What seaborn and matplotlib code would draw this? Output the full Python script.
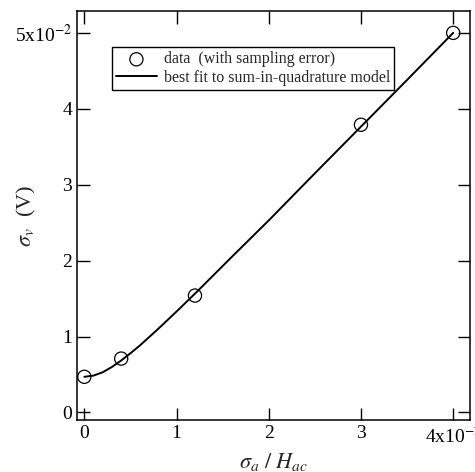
import numpy as np
import pandas as pd
import seaborn as sns
import matplotlib.pyplot as plt

# measured points (x in units of 1e-2, y in units of 1e-2 V)
data_x = [0.0, 0.4, 1.2, 3.0, 4.0]
data_y = [0.47, 0.71, 1.54, 3.79, 5.0]

# fit curve
fit_x = [0.0, 0.1, 0.2, 0.3, 0.4, 0.5, 0.6, 0.8, 1.0, 1.2, 1.6, 2.0, 2.5, 3.0, 3.5, 4.0]
fit_y = [0.47, 0.486, 0.53, 0.60, 0.685, 0.78, 0.88, 1.10, 1.33, 1.565, 2.05, 2.53, 3.15, 3.765, 4.38, 5.0]

x_ticks = [0, 1, 2, 3, 4]
x_labels = ['0', '1', '2', '3', r'4x10$^{-2}$']
y_ticks = [0, 1, 2, 3, 4, 5]
y_labels = ['0', '1', '2', '3', '4', r'5x10$^{-2}$']

sns.set_style('ticks')
plt.rcParams['font.family'] = ['Liberation Serif', 'DejaVu Serif']
plt.rcParams['mathtext.fontset'] = 'stix'

fig = plt.figure(figsize=(4.75, 4.72), dpi=100)
ax = fig.add_axes([0.162, 0.110, 0.827, 0.867])

fit = pd.DataFrame({'x': fit_x, 'y': fit_y})
pts = pd.DataFrame({'x': data_x, 'y': data_y})

sns.lineplot(data=fit, x='x', y='y', color='black', linewidth=1.4, ax=ax,
             label='best fit to sum-in-quadrature model')
sns.scatterplot(data=pts, x='x', y='y', marker='o', s=90, facecolor='none',
                edgecolor='black', linewidth=0.9, ax=ax, zorder=3,
                label='data  (with sampling error)')

ax.set_xlim(-0.08, 4.18)
ax.set_ylim(-0.1, 5.29)
ax.set_xticks(x_ticks)
ax.set_xticklabels(x_labels)
ax.set_yticks(y_ticks)
ax.set_yticklabels(y_labels)
ax.tick_params(direction='in', length=9, width=1, top=True, right=True,
               labelsize=14, colors='black')
for s in ax.spines.values():
    s.set_linewidth(1.1)
    s.set_color('black')

ax.set_xlabel(r'$\sigma_a\ /\ H_{ac}$', fontsize=16)
ax.set_ylabel(r'$\sigma_v$  (V)', fontsize=16)
ax.xaxis.set_label_coords(0.5, -0.075)
ax.yaxis.set_label_coords(-0.10, 0.5)

handles, labels = ax.get_legend_handles_labels()
leg = ax.legend(handles[::-1], labels[::-1], loc='upper left',
                bbox_to_anchor=(0.068, 0.93), fontsize=11.5, frameon=True,
                fancybox=False, edgecolor='black', framealpha=1,
                borderpad=0.25, handlelength=2.6, handletextpad=0.4,
                labelspacing=0.15)
leg.get_frame().set_linewidth(1.0)

fig.savefig('out.png', dpi=100)
